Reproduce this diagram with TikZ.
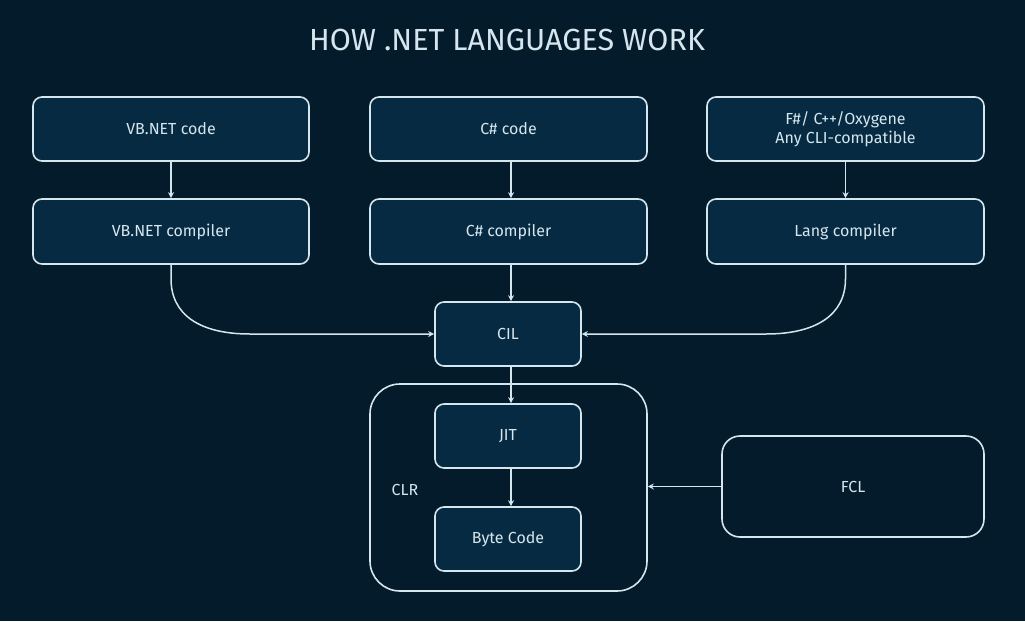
\documentclass[tikz,border=0pt]{standalone}
\usepackage{fontspec}
\setmainfont{Fira Sans}
\usetikzlibrary{arrows.meta}
\definecolor{bg}{HTML}{031B2A}
\definecolor{boxfill}{HTML}{062A41}
\definecolor{ln}{HTML}{D6E6EE}
\begin{document}
\begin{tikzpicture}[x=1pt,y=-1pt,
  box/.style={draw=ln, line width=1.6pt, fill=boxfill, rounded corners=9pt, text=ln, font=\fontsize{16}{19}\selectfont, align=center, inner sep=0pt},
  plain/.style={draw=ln, line width=1.6pt, fill=bg, rounded corners=9pt, text=ln, font=\fontsize{16}{19}\selectfont, inner sep=0pt},
  arr/.style={draw=ln, line width=1.5pt, -{Stealth[length=6pt,width=6pt]}}]
\fill[bg] (0,0) rectangle (1025,621);
\useasboundingbox (0,0) rectangle (1025,621);
\node[text=ln, font=\fontsize{30.5}{36}\selectfont] (title) at (507,40) {HOW .NET LANGUAGES WORK};
% top row
\node[box, minimum width=276pt, minimum height=64pt] (vbc) at (171,129) {VB.NET code};
\node[box, minimum width=277pt, minimum height=64pt] (csc) at (508.5,129) {C\# code};
\node[box, minimum width=277pt, minimum height=64pt] (fc) at (845.5,129) {F\#/ C++/Oxygene\\Any CLI-compatible};
% compilers
\node[box, minimum width=276pt, minimum height=65pt] (vbk) at (171,231.5) {VB.NET compiler};
\node[box, minimum width=277pt, minimum height=65pt] (csk) at (508.5,231.5) {C\# compiler};
\node[box, minimum width=277pt, minimum height=65pt] (lk) at (845.5,231.5) {Lang compiler};
% CIL
\node[box, minimum width=146pt, minimum height=64pt] (cil) at (508,334) {CIL};
% CLR
\node[plain, minimum width=277pt, minimum height=207pt, rounded corners=30pt] (clr) at (508.5,487.5) {};
\node[text=ln, font=\fontsize{16}{19}\selectfont] (clrl) at (405,490) {CLR};
\node[box, minimum width=146pt, minimum height=64pt] (jit) at (508,436) {JIT};
\node[box, minimum width=146pt, minimum height=64pt] (bc) at (508,539) {Byte Code};
% FCL
\node[plain, minimum width=262pt, minimum height=101pt, rounded corners=18pt] (fcl) at (853,486.5) {FCL};
% connectors
\draw[arr] (vbc.south -| vbk.north) -- (vbk.north);
\draw[arr] ([xshift=2.5pt]csc.south) -- ([xshift=2.5pt]csk.north);
\draw[arr] (fc.south) -- (fc.south |- lk.north);
\draw[arr] ([xshift=2.5pt]csk.south) -- ([xshift=3pt]cil.north);
\draw[arr] (vbk.south) -- ++(0,14) .. controls (171,315) and (200,334) .. (250,334) -- (cil.west);
\draw[arr] (lk.south) -- ++(0,14) .. controls (845.5,315) and (816,334) .. (766,334) -- (cil.east);
\draw[arr] ([xshift=3pt]cil.south) -- ([xshift=3pt]jit.north);
\draw[arr] ([xshift=3pt]jit.south) -- ([xshift=3pt]bc.north);
\draw[arr] (fcl.west) -- (fcl.west -| clr.east);
\end{tikzpicture}
\end{document}
